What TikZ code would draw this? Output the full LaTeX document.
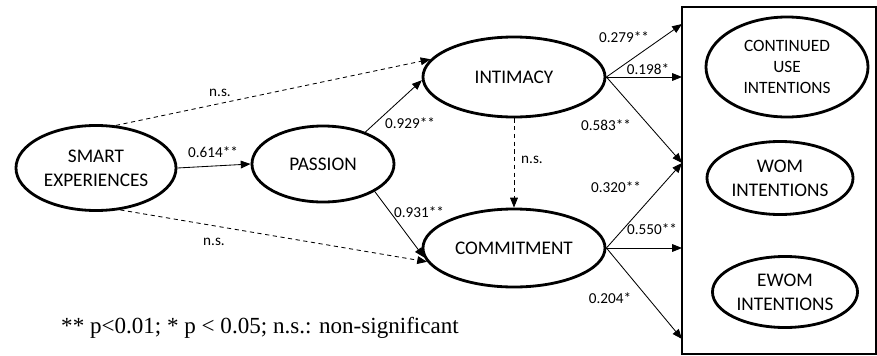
\documentclass[tikz,border=0pt]{standalone}
\usepackage{fontspec}
\setmainfont{Liberation Serif}
\newfontfamily\carlito{Carlito}
\usetikzlibrary{shapes.geometric,arrows.meta,positioning}

\begin{document}
\begin{tikzpicture}[x=0.025cm,y=-0.025cm,
		construct/.style={ellipse,draw,line width=2pt,inner sep=0pt,align=center,font=\carlito\fontsize{13.7}{17}\selectfont},
		effect/.style={line width=0.6pt,-{Triangle[length=7pt,width=5.5pt]}},
		nsarrow/.style={effect,dash pattern=on 3pt off 2.5pt},
		coef/.style={font=\carlito\fontsize{10.8}{12}\selectfont,inner sep=1pt}]
		
		\useasboundingbox (0,0) rectangle (877,356);
		
		\node[construct,minimum width=4cm,minimum height=2.125cm] (smart) at (96,168) {SMART\\EXPERIENCES};
		\node[construct,minimum width=3.55cm,minimum height=1.9cm] (passion) at (323,164) {PASSION};
		\node[construct,minimum width=4.55cm,minimum height=2cm] (intimacy) at (514,77) {INTIMACY};
		\node[construct,minimum width=4.55cm,minimum height=1.95cm] (commitment) at (514,248) {COMMITMENT};
		
		\node[draw,line width=1.8pt,minimum width=4.85cm,minimum height=8.675cm] (outcomes) at (779,180.5) {};
		\node[construct,minimum width=4.05cm,minimum height=2.5cm,font=\carlito\fontsize{12.3}{14.8}\selectfont] (use) at (787,67) {CONTINUED\\USE\\INTENTIONS};
		\node[construct,minimum width=3.65cm,minimum height=1.825cm] (wom) at (780,178) {WOM\\INTENTIONS};
		\node[construct,minimum width=3.625cm,minimum height=1.775cm] (ewom) at (785,292) {EWOM\\INTENTIONS};
		
		\coordinate (in1) at (682,24);
		\coordinate (in2) at (682,77);
		\coordinate (in3) at (682,163);
		\coordinate (in4) at (682,248);
		\coordinate (in5) at (682,339);
		
		\draw[effect] (smart.east) -- (passion.west);
		\draw[nsarrow] (smart.65) -- (intimacy.168);
		\draw[nsarrow] (smart.-60) -- (commitment.189);
		\draw[effect] (passion.37) -- (intimacy.182);
		\draw[effect] (passion.-28) -- (commitment.186);
		\draw[nsarrow] (intimacy.south) -- (commitment.north);
		
		\draw[effect] (intimacy.east) -- (in1);
		\draw[effect] (intimacy.east) -- (in2);
		\draw[effect] (intimacy.east) -- (in3);
		\draw[effect] (commitment.east) -- (in3);
		\draw[effect] (commitment.east) -- (in4);
		\draw[effect] (commitment.east) -- (in5);
		
		\node[coef] (b614) at (213,152) {0.614**};
		\node[coef] (nsup) at (220,93) {n.s.};
		\node[coef] (nsdown) at (214,242) {n.s.};
		\node[coef] (b929) at (410,123) {0.929**};
		\node[coef] (b931) at (419,212) {0.931**};
		\node[coef] (nsmid) at (532,160) {n.s.};
		\node[coef] (b279) at (624,37) {0.279**};
		\node[coef] (b198) at (648,69) {0.198*};
		\node[coef] (b583) at (606,125) {0.583**};
		\node[coef] (b320) at (616,187) {0.320**};
		\node[coef] (b550) at (652,229) {0.550**};
		\node[coef] (b204) at (610,298) {0.204*};
		
		\node[font=\fontsize{16.4}{19}\selectfont,inner sep=0pt] (note) at (260,328) {** p<0.01; * p < 0.05; n.s.: non-significant};
		
\end{tikzpicture}
\end{document}
